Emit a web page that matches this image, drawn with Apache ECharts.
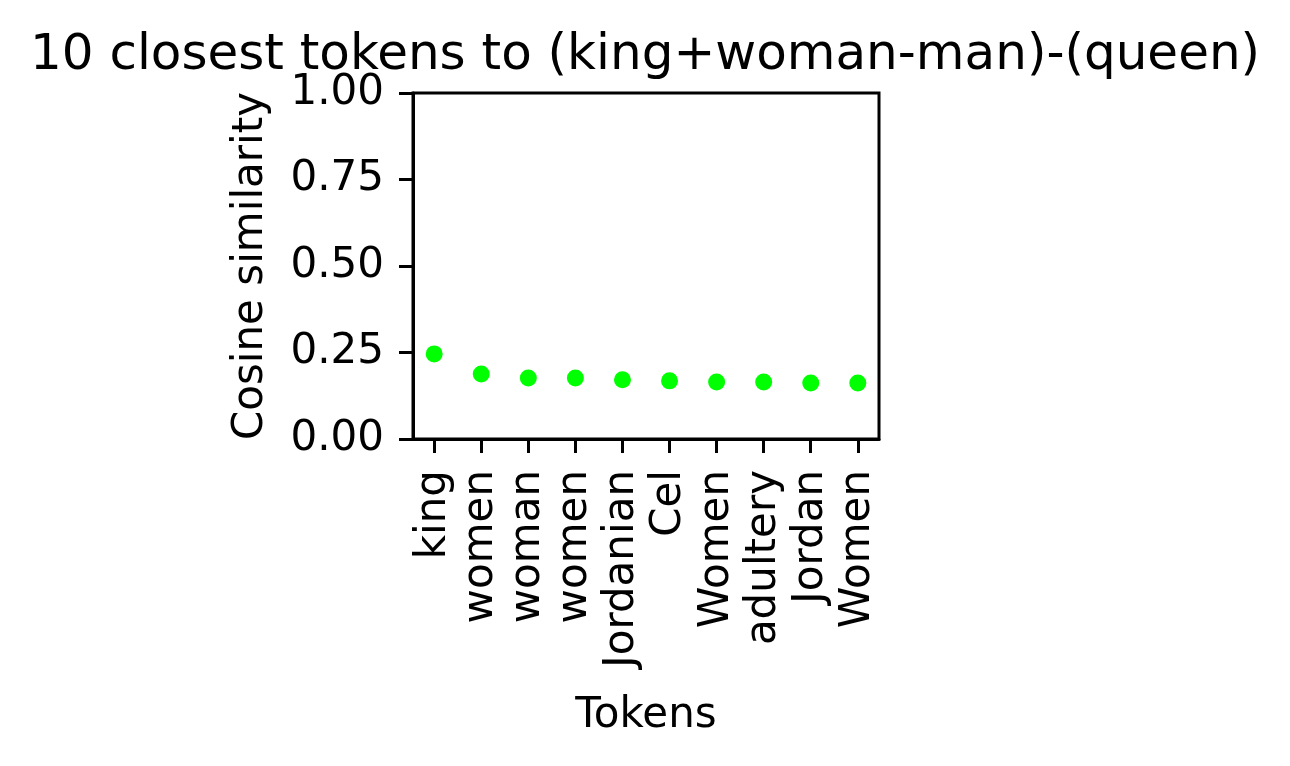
<!DOCTYPE html>
<html>
<head>
<meta charset="utf-8">
<script src="https://cdn.jsdelivr.net/npm/echarts@6/dist/echarts.min.js"></script>
<style>
html,body{margin:0;padding:0;background:#fff;}
#chart{width:1290px;height:766px;}
</style>
</head>
<body>
<div id="chart"></div>
<script>
const titleText = "10 closest tokens to (king+woman-man)-(queen)";
const tokens = ["king","women","woman","women","Jordanian","Cel","Women","adultery","Jordan","Women"];
const similarity = [0.246, 0.188, 0.176, 0.176, 0.171, 0.168, 0.165, 0.165, 0.162, 0.162];

const idx = tokens.map((t, i) => i);
const points = similarity.map((v, i) => [i, v]);

const FONT = "DejaVu Sans";
const chart = echarts.init(document.getElementById('chart'), null, {renderer: 'canvas'});
chart.setOption({
  backgroundColor: '#fff',
  animation: false,
  title: {
    text: titleText,
    left: 'center',
    top: 26,
    textStyle: {fontFamily: FONT, fontSize: 50, fontWeight: 'normal', color: '#000'}
  },
  grid: {
    left: 413, right: 411, top: 93, bottom: 327,
    show: true, borderColor: '#000', borderWidth: 3, backgroundColor: 'transparent'
  },
  xAxis: {
    type: 'value',
    min: -0.45, max: 9.45,
    name: 'Tokens',
    nameLocation: 'middle',
    nameGap: 256,
    nameTextStyle: {fontFamily: FONT, fontSize: 42, color: '#000'},
    axisLine: {show: true, onZero: false, lineStyle: {color: '#000', width: 3}},
    axisTick: {show: true, length: 14, lineStyle: {color: '#000', width: 3}, customValues: idx},
    axisLabel: {
      customValues: idx,
      rotate: 90,
      margin: 31,
      fontFamily: FONT, fontSize: 42, color: '#000',
      formatter: v => tokens[Math.round(v)]
    },
    splitLine: {show: false}
  },
  yAxis: {
    type: 'value',
    min: 0, max: 1, interval: 0.25,
    name: 'Cosine similarity',
    nameLocation: 'middle',
    nameGap: 141,
    nameTextStyle: {fontFamily: FONT, fontSize: 42, color: '#000'},
    axisLine: {show: true, onZero: false, lineStyle: {color: '#000', width: 3}},
    axisTick: {show: true, length: 14, lineStyle: {color: '#000', width: 3}},
    axisLabel: {
      margin: 29,
      fontFamily: FONT, fontSize: 42, color: '#000',
      formatter: v => v.toFixed(2)
    },
    splitLine: {show: false}
  },
  series: [{
    type: 'scatter',
    data: points,
    symbol: 'circle',
    symbolSize: 17,
    itemStyle: {color: '#00ff00', opacity: 1}
  }]
});
</script>
</body>
</html>
